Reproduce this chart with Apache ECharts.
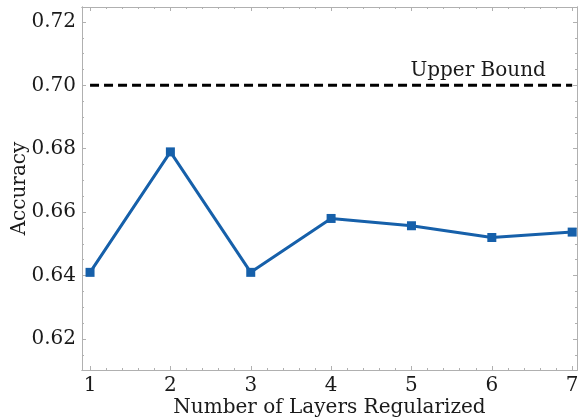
<!DOCTYPE html>
<html><head><meta charset="utf-8">
<script src="https://cdn.jsdelivr.net/npm/echarts@6/dist/echarts.min.js"></script>
<style>html,body{margin:0;padding:0;background:#fff}#c{width:579px;height:418px}</style>
</head><body><div id="c"></div>
<script>
var layers = [1, 2, 3, 4, 5, 6, 7];
var accuracy = [0.641, 0.679, 0.641, 0.658, 0.6557, 0.652, 0.6537];
var upperBound = 0.70;
var upperLabel = 'Upper Bound';
var xTicks = [1, 2, 3, 4, 5, 6, 7];
var yTicks = [0.62, 0.64, 0.66, 0.68, 0.70, 0.72];

var xMin = 0.9, xMax = 7.06, yMin = 0.6102, yMax = 0.7247;
var xMinor = [];
for (var i = 0; i < 7; i++) for (var k = 1; k < 5; k++) xMinor.push(+(i + 1 + k * 0.2).toFixed(2));
xMinor = xMinor.filter(function (v) { return v > xMin && v < xMax; });
var yMinor = [];
for (var y = 0.61; y < yMax; y += 0.005) { var r = +y.toFixed(3); if (r > yMin && yTicks.indexOf(r) < 0) yMinor.push(r); }

var font = 'DejaVu Serif';
var gray = '#b0b0b0';
var txt = '#1a1a1a';
function xAx(pos, ticks, len, showLabel) {
  return {type: 'value', position: pos, min: xMin, max: xMax,
    axisLine: {show: true, onZero: false, lineStyle: {color: gray, width: 1}},
    splitLine: {show: false},
    axisTick: {show: true, inside: true, length: len, customValues: ticks, lineStyle: {color: gray}},
    axisLabel: {show: showLabel, customValues: xTicks, fontFamily: font, fontSize: 20, color: txt, margin: 6}};
}
function yAx(pos, ticks, len, showLabel) {
  return {type: 'value', position: pos, min: yMin, max: yMax,
    axisLine: {show: true, onZero: false, lineStyle: {color: gray, width: 1}},
    splitLine: {show: false},
    axisTick: {show: true, inside: true, length: len, customValues: ticks, lineStyle: {color: gray}},
    axisLabel: {show: showLabel, customValues: yTicks, fontFamily: font, fontSize: 20, color: txt, margin: 6,
      formatter: function (v) { return v.toFixed(2); }}};
}
var xs = [xAx('bottom', xTicks, 4, true), xAx('bottom', xMinor, 2, false), xAx('top', xTicks, 4, false), xAx('top', xMinor, 2, false)];
xs[0].name = 'Number of Layers Regularized';
xs[0].nameLocation = 'middle';
xs[0].nameGap = 28;
xs[0].nameMoveOverlap = false;
xs[0].nameTextStyle = {fontFamily: font, fontSize: 20, color: txt};
var ys = [yAx('left', yTicks, 4, true), yAx('left', yMinor, 2, false), yAx('right', yTicks, 4, false), yAx('right', yMinor, 2, false)];
ys[0].name = 'Accuracy';
ys[0].nameLocation = 'middle';
ys[0].nameGap = 52;
ys[0].nameMoveOverlap = false;
ys[0].nameTextStyle = {fontFamily: font, fontSize: 20, color: txt};

var chart = echarts.init(document.getElementById('c'), null, {renderer: 'canvas'});
chart.setOption({
  animation: false,
  grid: {left: 82, right: 2, top: 7, bottom: 48, containLabel: false, outerBoundsMode: 'none'},
  xAxis: xs,
  yAxis: ys,
  series: [
    {type: 'line', data: [[layers[0], upperBound], [layers[layers.length - 1], upperBound]],
      symbol: 'none', lineStyle: {color: '#000', width: 3, type: [9, 5]}, z: 3,
      markPoint: {symbol: 'rect', symbolSize: 0,
        data: [{coord: [5.83, 0.7045], label: {show: true, formatter: upperLabel, fontFamily: font, fontSize: 20, color: txt, position: 'inside'}}]}},
    {type: 'line', data: layers.map(function (x, i) { return [x, accuracy[i]]; }),
      symbol: 'rect', symbolSize: 9, itemStyle: {color: '#1660aa'},
      lineStyle: {color: '#1660aa', width: 3}, z: 4}
  ]
});
</script></body></html>
